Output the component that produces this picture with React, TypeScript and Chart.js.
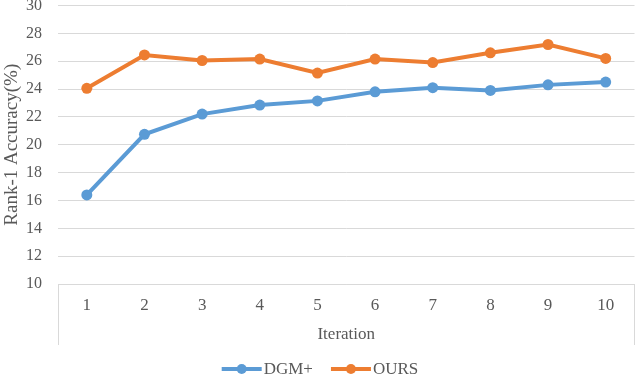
import React, { useEffect, useRef } from "react";
import { Chart, registerables } from "chart.js";

Chart.register(...registerables);

const iterations = ["1", "2", "3", "4", "5", "6", "7", "8", "9", "10"];
const dgmPlus = [16.4, 20.75, 22.2, 22.85, 23.15, 23.8, 24.1, 23.9, 24.3, 24.5];
const ours = [24.05, 26.45, 26.05, 26.15, 25.15, 26.15, 25.9, 26.6, 27.2, 26.2];
const seriesNames = ["DGM+", "OURS"];
const seriesColors = ["#5B9BD5", "#ED7D31"];
const yTitle = "Rank-1 Accuracy(%)";

const FONT = "'Liberation Serif', 'Times New Roman', serif";
const TEXT = "#595959";
const GRID = "#d9d9d9";

const tablePlugin = {
  id: "tableLines",
  afterDraw(chart: any) {
    const { ctx, chartArea } = chart;
    const xs = chart.scales.x;
    ctx.save();
    ctx.strokeStyle = GRID;
    ctx.lineWidth = 1;
    ctx.beginPath();
    const l = Math.round(chartArea.left) + 0.5;
    const r = Math.round(chartArea.right) - 0.5;
    ctx.moveTo(l, chartArea.bottom);
    ctx.lineTo(l, xs.bottom);
    ctx.moveTo(r, chartArea.bottom);
    ctx.lineTo(r, xs.bottom);
    ctx.stroke();

    // y-axis title
    ctx.save();
    ctx.font = `19px ${FONT}`;
    ctx.fillStyle = TEXT;
    ctx.textAlign = "center";
    ctx.textBaseline = "middle";
    ctx.translate(12, (chartArea.top + chartArea.bottom) / 2);
    ctx.rotate(-Math.PI / 2);
    ctx.fillText(yTitle, 0, 0);
    ctx.restore();

    // legend
    ctx.font = `17px ${FONT}`;
    ctx.textBaseline = "middle";
    const lineLen = 40;
    const gap = 2;
    const spacing = 18;
    const widths = seriesNames.map((n) => lineLen + gap + ctx.measureText(n).width);
    const total = widths.reduce((a, b) => a + b, 0) + spacing * (widths.length - 1);
    let x = chart.width / 2 - total / 2;
    const y = 369;
    seriesNames.forEach((n, i) => {
      ctx.strokeStyle = seriesColors[i];
      ctx.fillStyle = seriesColors[i];
      ctx.lineWidth = 4;
      ctx.beginPath();
      ctx.moveTo(x, y);
      ctx.lineTo(x + lineLen, y);
      ctx.stroke();
      ctx.beginPath();
      ctx.arc(x + lineLen / 2, y, 5, 0, Math.PI * 2);
      ctx.fill();
      ctx.fillStyle = TEXT;
      ctx.textAlign = "left";
      ctx.fillText(n, x + lineLen + gap, y + 1);
      x += widths[i] + spacing;
    });
    ctx.restore();
  },
};

export default function App() {
  const ref = useRef<HTMLCanvasElement | null>(null);
  useEffect(() => {
    document.body.style.margin = "0";
    const canvas = ref.current;
    if (!canvas) return;
    const chart = new Chart(canvas, {
      type: "line",
      data: {
        labels: iterations,
        datasets: [
          {
            label: seriesNames[0],
            data: dgmPlus,
            borderColor: seriesColors[0],
            backgroundColor: seriesColors[0],
            borderWidth: 4,
            pointRadius: 5.5,
            pointBorderWidth: 0,
            tension: 0,
          },
          {
            label: seriesNames[1],
            data: ours,
            borderColor: seriesColors[1],
            backgroundColor: seriesColors[1],
            borderWidth: 4,
            pointRadius: 5.5,
            pointBorderWidth: 0,
            tension: 0,
          },
        ],
      },
      options: {
        animation: false,
        responsive: true,
        maintainAspectRatio: false,
        layout: { padding: { top: 5, right: 1, bottom: 31, left: 0 } },
        plugins: {
          legend: { display: false },
          tooltip: { enabled: false },
        },
        scales: {
          x: {
            offset: true,
            grid: { display: false, drawTicks: false },
            border: { display: true, color: GRID },
            ticks: { color: TEXT, font: { family: FONT, size: 17 }, padding: 11, maxRotation: 0 },
            title: {
              display: true,
              text: "Iteration",
              color: TEXT,
              font: { family: FONT, size: 17 },
              padding: { top: 0, bottom: 0 },
            },
            afterFit(scale: any) {
              scale.height = 61;
              scale.paddingLeft = 0;
              scale.paddingRight = 0;
            },
          },
          y: {
            min: 10,
            max: 30,
            grid: { color: GRID, lineWidth: 1, drawTicks: false },
            border: { display: false },
            ticks: { stepSize: 2, color: TEXT, font: { family: FONT, size: 16 }, padding: 16 },
            title: { display: false },
            afterFit(scale: any) {
              scale.width = 58;
              scale.paddingTop = 0;
              scale.paddingBottom = 0;
            },
          },
        },
      },
      plugins: [tablePlugin],
    });
    return () => chart.destroy();
  }, []);
  return (
    <div style={{ width: 640, height: 376, position: "relative", background: "#fff" }}>
      <canvas ref={ref} />
    </div>
  );
}
